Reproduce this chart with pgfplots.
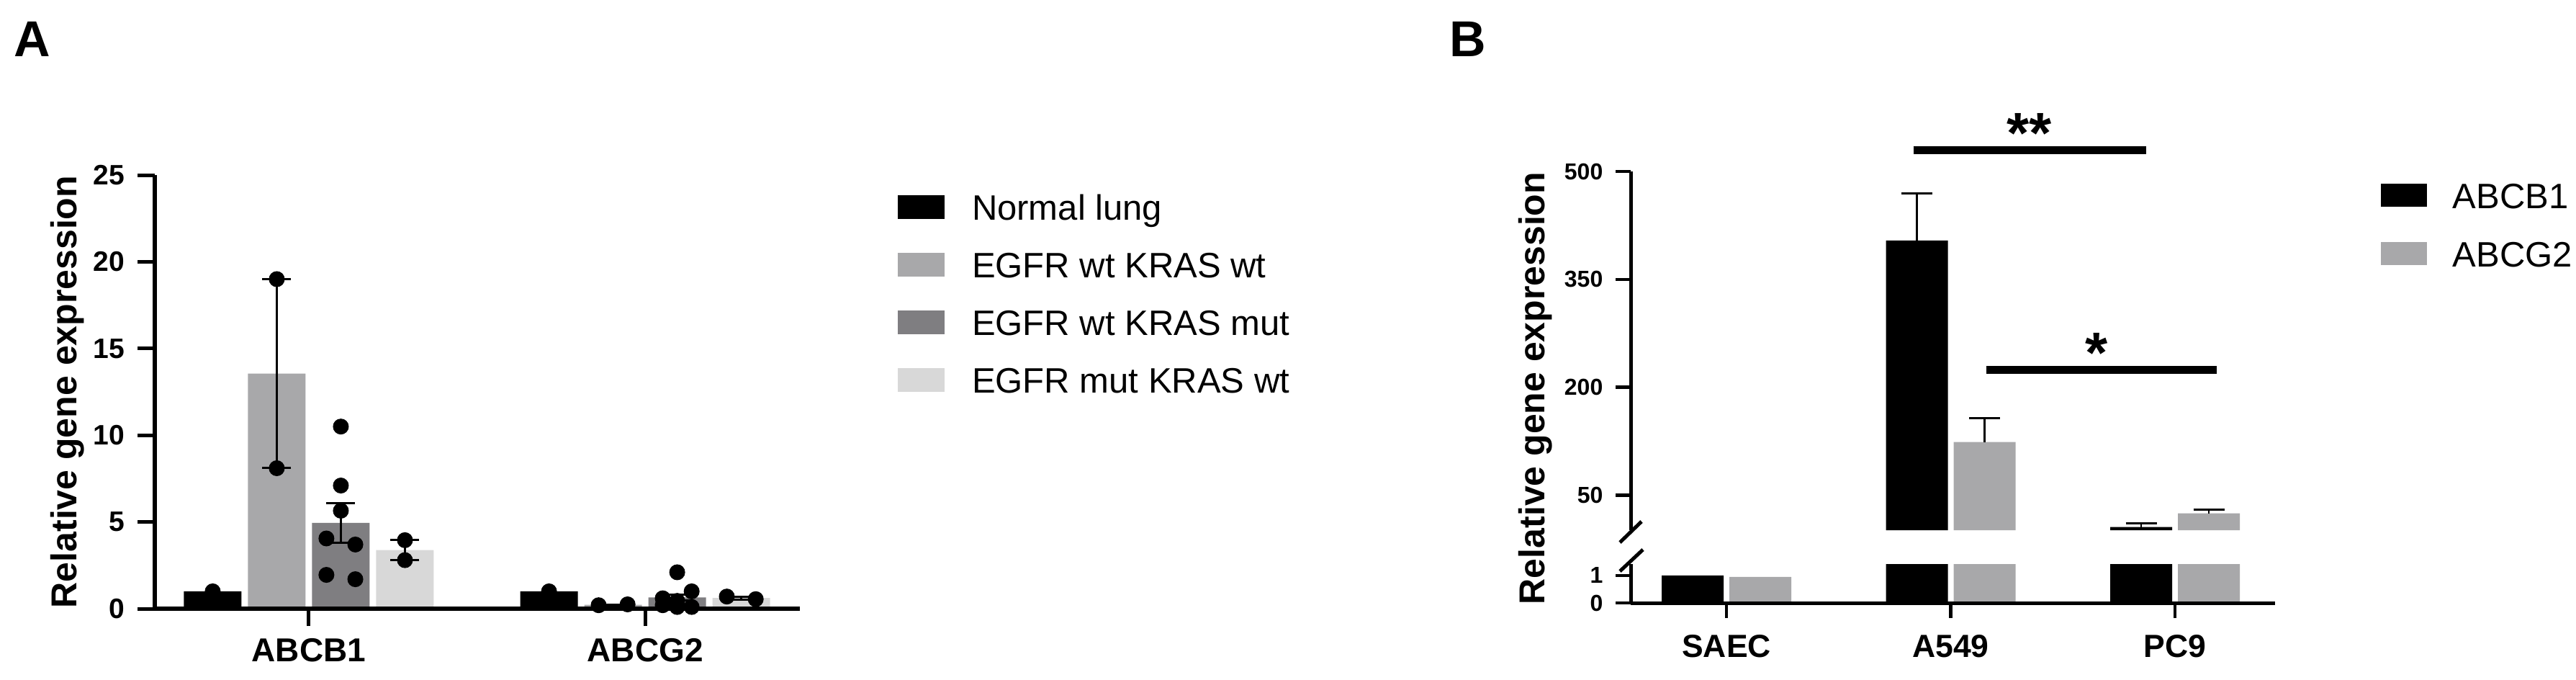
\documentclass[border=0pt]{standalone}
\usepackage{pgfplots}
\pgfplotsset{compat=1.18}
\usepackage{fontspec}
\setmainfont{Liberation Sans}

\definecolor{wtwt}{RGB}{168,168,170}
\definecolor{wtmut}{RGB}{127,126,129}
\definecolor{mutwt}{RGB}{216,216,216}

% 1 px of the reference = 0.2pt ; picture is 715.6pt x 188.6pt
\begin{document}
\begin{tikzpicture}
\useasboundingbox (0pt,0pt) rectangle (715.6pt,188.6pt);

\node[anchor=base west,inner sep=0pt,font=\fontsize{14}{14}\selectfont\bfseries] at (3.8pt,173pt) {A};
\node[anchor=base west,inner sep=0pt,font=\fontsize{14}{14}\selectfont\bfseries] at (402.4pt,173pt) {B};

% ---------- panel A ----------
\begin{axis}[
    name=A, at={(43pt,19.6pt)}, anchor=south west,
    scale only axis, axis on top,
    width=179.2pt, height=120.4pt,
    xmin=-0.458, xmax=1.46, ymin=0, ymax=25,
    axis x line*=bottom, axis y line*=left,
    axis line style={line width=1.3pt},
    tick align=outside, major tick length=4.8pt,
    tick style={line width=1pt,black},
    xtick={0,1}, xticklabels={ABCB1,ABCG2},
    ytick={0,5,10,15,20,25},
    /pgf/number format/assume math mode=true,
    yticklabel style={font=\fontsize{7.8}{8}\selectfont\bfseries},
    xticklabel style={font=\fontsize{9.2}{10}\selectfont\bfseries},
    ylabel={Relative gene expression},
    ylabel style={font=\fontsize{10}{11}\selectfont\bfseries,
        at={(axis description cs:-0.135,0.5)}, anchor=center},
    legend style={at={(1.1507,0.9568)}, anchor=north west, draw=none, fill=none,
        inner sep=0pt, row sep=6.8pt, column sep=7.6pt,
        font=\fontsize{9.8}{10}\selectfont,
        nodes={inner sep=0pt, text height=7.1pt, text depth=2.1pt}},
    legend cell align=left,
    legend image code/.code={\fill[#1] (0pt,-2.2pt) rectangle (13pt,4.4pt);},
]
% bars (mean)
\addplot[ybar, bar width=16pt, bar shift=-26.7pt, fill=black, draw=none]
    coordinates {(0,1.0) (1,1.0)};
\addlegendentry{Normal lung}
\addplot[ybar, bar width=16pt, bar shift=-8.9pt, fill=wtwt, draw=none]
    coordinates {(0,13.55) (1,0.22)};
\addlegendentry{EGFR wt KRAS wt}
\addplot[ybar, bar width=16pt, bar shift=8.9pt, fill=wtmut, draw=none]
    coordinates {(0,4.95) (1,0.65)};
\addlegendentry{EGFR wt KRAS mut}
\addplot[ybar, bar width=16pt, bar shift=26.7pt, fill=mutwt, draw=none]
    coordinates {(0,3.38) (1,0.62)};
\addlegendentry{EGFR mut KRAS wt}

% error bars (SEM)
\pgfplotsset{semA/.style={draw=none, forget plot,
    error bars/.cd, y dir=both, y explicit,
    error bar style={draw=black, line width=0.6pt},
    error mark options={draw=black, rotate=90, mark size=4pt, line width=0.6pt}}}
\addplot[xshift=-8.9pt, semA] coordinates {(0,13.55) +- (0,5.45) (1,0.22) +- (0,0.03)};
\addplot[xshift=8.9pt, semA] coordinates {(0,4.95) +- (0,1.15) (1,0.65) +- (0,0.18)};
\addplot[xshift=26.7pt, semA] coordinates {(0,3.38) +- (0,0.58) (1,0.62) +- (0,0.08)};

% individual samples
\pgfplotsset{dotsA/.style={only marks, mark=*, mark size=2pt, black, forget plot}}
\addplot[xshift=-26.7pt, dotsA] coordinates {(0,1.0) (1,1.0)};
\addplot[xshift=-8.9pt, dotsA] coordinates {(0,19.0) (0,8.1) (0.957,0.2) (1.043,0.25)};
\addplot[xshift=8.9pt, dotsA] coordinates {
    (0,10.5) (0,7.1) (0,5.65) (-0.043,4.05) (0.043,3.7) (-0.043,1.95) (0.043,1.7)
    (1,2.1) (1.043,1.0) (0.957,0.6) (1,0.45) (0.957,0.2) (1.043,0.1) (1,0.1)};
\addplot[xshift=26.7pt, dotsA] coordinates {(0,3.95) (0,2.8) (0.957,0.7) (1.043,0.55)};
\end{axis}

% ---------- panel B, upper segment (SAEC lies wholly below the break) ----------
\begin{axis}[
    name=Bup, at={(453pt,41.4pt)}, anchor=south west,
    scale only axis, axis on top,
    width=179pt, height=99.6pt,
    xmin=-0.427, xmax=2.446, ymin=1.5, ymax=500,
    axis x line=none, axis y line*=left,
    axis line style={line width=1pt},
    tick align=outside, major tick length=4.2pt,
    tick style={line width=0.9pt,black},
    xtick=\empty, ytick={50,200,350,500},
    /pgf/number format/assume math mode=true,
    yticklabel style={font=\fontsize{6.4}{7}\selectfont\bfseries},
    ylabel={Relative gene expression},
    ylabel style={font=\fontsize{10}{11}\selectfont\bfseries,
        at={(axis description cs:-0.1475,0.3956)}, anchor=center},
    legend style={at={(1.163,0.970)}, anchor=north west, draw=none, fill=none,
        inner sep=0pt, row sep=7pt, column sep=7.2pt,
        font=\fontsize{9.8}{10}\selectfont,
        nodes={inner sep=0pt, text height=7.1pt, text depth=2.1pt}},
    legend cell align=left,
    legend image code/.code={\fill[#1] (0pt,-2.1pt) rectangle (12.8pt,4.3pt);},
]
\addplot[ybar, bar width=17.2pt, bar shift=-9.4pt, fill=black, draw=none]
    coordinates {(1,404) (2,6)};
\addlegendentry{ABCB1}
\addplot[ybar, bar width=17.2pt, bar shift=9.4pt, fill=wtwt, draw=none]
    coordinates {(1,124) (2,25)};
\addlegendentry{ABCG2}
\pgfplotsset{semB/.style={draw=none, forget plot,
    error bars/.cd, y dir=plus, y explicit,
    error bar style={draw=black, line width=0.5pt},
    error mark options={draw=black, rotate=90, mark size=4.3pt, line width=0.6pt}}}
\addplot[xshift=-9.4pt, semB] coordinates {(1,404) +- (0,65) (2,6) +- (0,5)};
\addplot[xshift=9.4pt, semB] coordinates {(1,124) +- (0,33) (2,25) +- (0,5)};

% anchor points for the significance brackets (drawn after the axis, unclipped)
\coordinate (s2l) at ([xshift=-10.4pt]axis cs:1,530);
\coordinate (s2r) at ([xshift=-8pt]axis cs:2,530);
\coordinate (s2t) at ([xshift=-9.4pt]axis cs:1.5,526);
\coordinate (s1l) at ([xshift=9.8pt]axis cs:1,224);
\coordinate (s1r) at ([xshift=11.6pt]axis cs:2,224);
\coordinate (s1t) at ([xshift=9.4pt]axis cs:1.5,220);
\end{axis}

\draw[line width=2.2pt] (s2l) -- (s2r);
\draw[line width=2.2pt] (s1l) -- (s1r);
\node[anchor=base, inner sep=0pt, font=\fontsize{16}{16}\selectfont\bfseries] at (s2t) {**};
\node[anchor=base, inner sep=0pt, font=\fontsize{16}{16}\selectfont\bfseries] at (s1t) {*};

% ---------- panel B, lower segment ----------
\begin{axis}[
    name=Blo, at={(453pt,21.2pt)}, anchor=south west,
    scale only axis, axis on top,
    width=179pt, height=10.8pt,
    xmin=-0.427, xmax=2.446, ymin=0, ymax=1.42,
    axis x line*=bottom, axis y line*=left,
    axis line style={line width=1pt},
    tick align=outside, major tick length=4.2pt,
    tick style={line width=0.9pt,black},
    xtick={0,1,2}, xticklabels={SAEC,A549,PC9},
    ytick={0,1},
    /pgf/number format/assume math mode=true,
    yticklabel style={font=\fontsize{6.4}{7}\selectfont\bfseries},
    xticklabel style={font=\fontsize{8.9}{10}\selectfont\bfseries, yshift=-1.2pt},
]
\addplot[ybar, bar width=17.2pt, bar shift=-9.4pt, fill=black, draw=none, forget plot]
    coordinates {(0,1.0) (1,404) (2,6)};
\addplot[ybar, bar width=17.2pt, bar shift=9.4pt, fill=wtwt, draw=none, forget plot]
    coordinates {(0,0.95) (1,124) (2,25)};
\end{axis}

% axis break marks
\draw[line width=1pt] ([shift={(-3pt,-3.4pt)}]Bup.south west) -- ([shift={(3pt,2.4pt)}]Bup.south west);
\draw[line width=1pt] ([shift={(-3pt,-2pt)}]Blo.north west) -- ([shift={(3.4pt,4pt)}]Blo.north west);
\end{tikzpicture}
\end{document}
